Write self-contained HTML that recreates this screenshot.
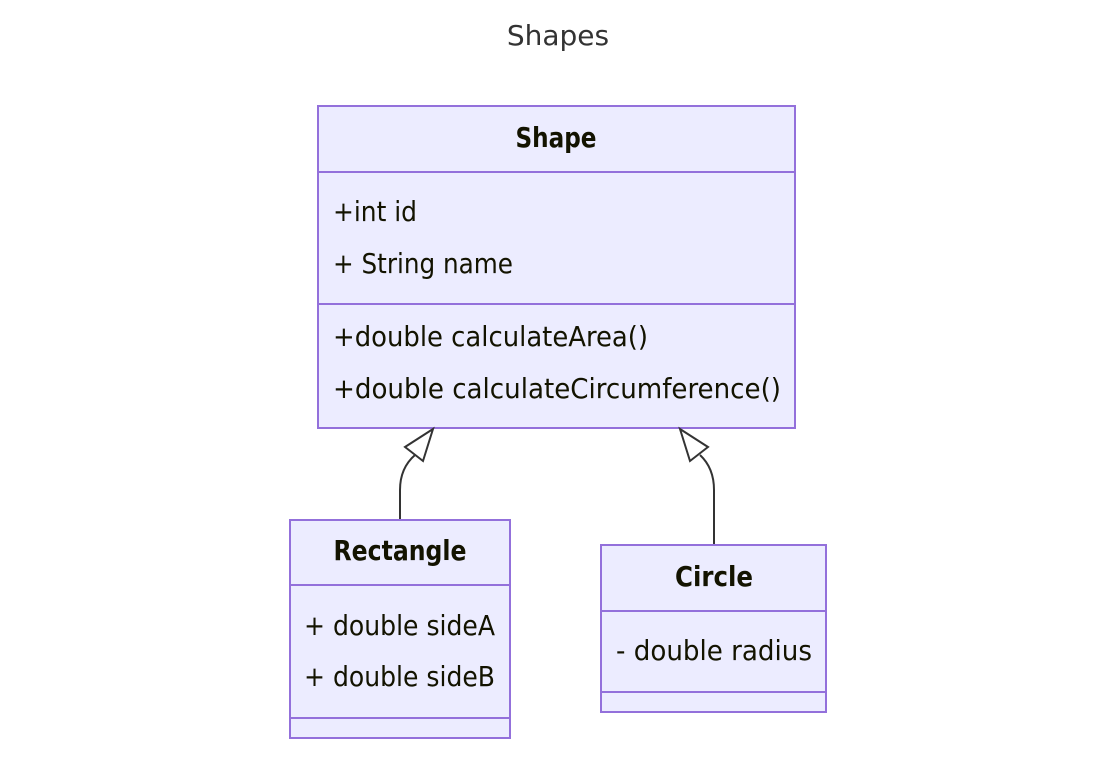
<!DOCTYPE html>
<html><head><meta charset="utf-8"><style>
html,body{margin:0;padding:0;background:#fff;}
svg text{font-family:"DejaVu Sans","Liberation Sans",sans-serif;fill:#131300;}
.c{font-family:"DejaVu Sans Condensed","DejaVu Sans",sans-serif;font-stretch:condensed;}
</style></head><body>
<svg width="1116" height="753" viewBox="0 0 1116 753" xmlns="http://www.w3.org/2000/svg">
<text x="558" y="45" text-anchor="middle" style="font-size:28px;fill:#333">Shapes</text>
<g fill="#ECECFF" stroke="#9370DB" stroke-width="2">
<rect x="318" y="106" width="477" height="322"/>
<line x1="318" y1="172" x2="795" y2="172"/>
<line x1="318" y1="304" x2="795" y2="304"/>
<rect x="290" y="520" width="220" height="218"/>
<line x1="290" y1="585" x2="510" y2="585"/>
<line x1="290" y1="718" x2="510" y2="718"/>
<rect x="601" y="545" width="225" height="167"/>
<line x1="601" y1="611" x2="826" y2="611"/>
<line x1="601" y1="692" x2="826" y2="692"/>
</g>
<g fill="none" stroke="#333" stroke-width="2">
<path d="M400,519 L400,490 Q400,468 415,455"/>
<path d="M714,544 L714,490 Q714,468 700,455"/>
</g>
<g fill="#fff" stroke="#333" stroke-width="2">
<polygon points="433,429 405,447 423,461"/>
<polygon points="680,429 708,447 690,461"/>
</g>
<g style="font-size:28px">
<text class="c" x="556" y="147" text-anchor="middle" textLength="81" lengthAdjust="spacingAndGlyphs" style="font-weight:bold">Shape</text>
<text class="c" x="400" y="560" text-anchor="middle" textLength="133" lengthAdjust="spacingAndGlyphs" style="font-weight:bold">Rectangle</text>
<text class="c" x="714" y="586" text-anchor="middle" textLength="78" lengthAdjust="spacingAndGlyphs" style="font-weight:bold">Circle</text>
</g>
<g style="font-size:28px">
<text class="c" x="333" y="221" textLength="84" lengthAdjust="spacingAndGlyphs">+int id</text>
<text class="c" x="333" y="273" textLength="180" lengthAdjust="spacingAndGlyphs">+ String name</text>
<text class="c" x="333" y="346" textLength="315" lengthAdjust="spacingAndGlyphs">+double calculateArea()</text>
<text class="c" x="333" y="398" textLength="448" lengthAdjust="spacingAndGlyphs">+double calculateCircumference()</text>
<text class="c" x="304" y="635" textLength="191" lengthAdjust="spacingAndGlyphs">+ double sideA</text>
<text class="c" x="304" y="686" textLength="191" lengthAdjust="spacingAndGlyphs">+ double sideB</text>
<text class="c" x="616" y="660" textLength="196" lengthAdjust="spacingAndGlyphs">- double radius</text>
</g>
</svg>
</body></html>
